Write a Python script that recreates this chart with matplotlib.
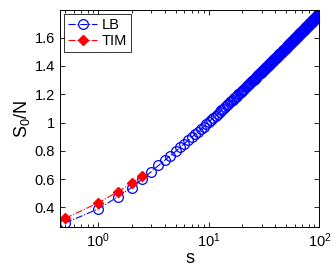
import matplotlib
matplotlib.use("Agg")
import matplotlib.pyplot as plt
from matplotlib.ticker import FixedLocator, LogLocator, NullFormatter

plt.rcParams['font.family'] = ['Liberation Sans', 'DejaVu Sans']
plt.rcParams['mathtext.fontset'] = 'custom'
plt.rcParams['mathtext.rm'] = 'Liberation Sans'
plt.rcParams['mathtext.it'] = 'Liberation Sans'
plt.rcParams['mathtext.default'] = 'regular'

lb_s = [
    0.5, 1, 1.5, 2, 2.5, 3, 3.5, 4, 4.5, 5, 5.5, 6, 6.5, 7, 7.5, 8, 8.5, 9, 9.5, 10,
    10.5, 11, 11.5, 12, 12.5, 13, 13.5, 14, 14.5, 15, 15.5, 16, 16.5, 17, 17.5, 18, 18.5, 19, 19.5, 20,
    20.5, 21, 21.5, 22, 22.5, 23, 23.5, 24, 24.5, 25, 25.5, 26, 26.5, 27, 27.5, 28, 28.5, 29, 29.5, 30,
    30.5, 31, 31.5, 32, 32.5, 33, 33.5, 34, 34.5, 35, 35.5, 36, 36.5, 37, 37.5, 38, 38.5, 39, 39.5, 40,
    40.5, 41, 41.5, 42, 42.5, 43, 43.5, 44, 44.5, 45, 45.5, 46, 46.5, 47, 47.5, 48, 48.5, 49, 49.5, 50,
    50.5, 51, 51.5, 52, 52.5, 53, 53.5, 54, 54.5, 55, 55.5, 56, 56.5, 57, 57.5, 58, 58.5, 59, 59.5, 60,
    60.5, 61, 61.5, 62, 62.5, 63, 63.5, 64, 64.5, 65, 65.5, 66, 66.5, 67, 67.5, 68, 68.5, 69, 69.5, 70,
    70.5, 71, 71.5, 72, 72.5, 73, 73.5, 74, 74.5, 75, 75.5, 76, 76.5, 77, 77.5, 78, 78.5, 79, 79.5, 80,
    80.5, 81, 81.5, 82, 82.5, 83, 83.5, 84, 84.5, 85, 85.5, 86, 86.5, 87, 87.5, 88, 88.5, 89, 89.5, 90,
    90.5, 91, 91.5, 92, 92.5, 93, 93.5, 94, 94.5, 95, 95.5, 96, 96.5, 97, 97.5, 98, 98.5, 99, 99.5, 100,
]
lb_val = [
    0.290, 0.390, 0.475, 0.541, 0.601, 0.652, 0.697, 0.735, 0.767, 0.796,
    0.824, 0.850, 0.874, 0.896, 0.917, 0.936, 0.954, 0.972, 0.988, 1.003,
    1.019, 1.033, 1.047, 1.061, 1.074, 1.086, 1.098, 1.110, 1.121, 1.132,
    1.142, 1.153, 1.162, 1.172, 1.181, 1.190, 1.199, 1.207, 1.215, 1.224,
    1.232, 1.240, 1.248, 1.255, 1.263, 1.270, 1.277, 1.284, 1.291, 1.298,
    1.304, 1.311, 1.317, 1.323, 1.329, 1.335, 1.341, 1.347, 1.353, 1.358,
    1.364, 1.369, 1.374, 1.380, 1.385, 1.390, 1.395, 1.400, 1.405, 1.409,
    1.414, 1.419, 1.423, 1.428, 1.432, 1.437, 1.441, 1.445, 1.450, 1.454,
    1.458, 1.462, 1.466, 1.470, 1.474, 1.478, 1.482, 1.486, 1.490, 1.494,
    1.498, 1.501, 1.505, 1.509, 1.512, 1.516, 1.520, 1.523, 1.526, 1.530,
    1.533, 1.537, 1.540, 1.543, 1.547, 1.550, 1.553, 1.556, 1.559, 1.562,
    1.565, 1.569, 1.572, 1.575, 1.578, 1.580, 1.583, 1.586, 1.589, 1.592,
    1.595, 1.598, 1.600, 1.603, 1.606, 1.609, 1.611, 1.614, 1.617, 1.619,
    1.622, 1.625, 1.627, 1.630, 1.632, 1.635, 1.637, 1.640, 1.642, 1.645,
    1.647, 1.649, 1.652, 1.654, 1.657, 1.659, 1.661, 1.664, 1.666, 1.668,
    1.670, 1.673, 1.675, 1.677, 1.679, 1.681, 1.684, 1.686, 1.688, 1.690,
    1.692, 1.694, 1.696, 1.699, 1.701, 1.703, 1.705, 1.707, 1.709, 1.711,
    1.713, 1.715, 1.717, 1.719, 1.721, 1.723, 1.725, 1.726, 1.728, 1.730,
    1.732, 1.734, 1.736, 1.738, 1.740, 1.741, 1.743, 1.745, 1.747, 1.749,
    1.750, 1.752, 1.754, 1.756, 1.758, 1.759, 1.761, 1.763, 1.764, 1.766,
]
tim_s = [0.5, 1, 1.5, 2, 2.5]
tim_val = [0.323, 0.433, 0.511, 0.570, 0.620]

y_ticks = [0.4, 0.6, 0.8, 1.0, 1.2, 1.4, 1.6]
y_tick_labels = ['0.4', '0.6', '0.8', '1', '1.2', '1.4', '1.6']

fig = plt.figure(figsize=(3.36, 2.72), dpi=100)
ax = fig.add_axes([0.1786, 0.1654, 0.9503 - 0.1786, 0.9632 - 0.1654])

ax.plot(lb_s, lb_val, linestyle='-.', color='#0000ff', marker='o', markersize=7,
        markerfacecolor='none', markeredgecolor='#0000ff', markeredgewidth=0.9,
        linewidth=0.8, label='LB')
ax.plot(tim_s, tim_val, linestyle='-.', color='#ff0000', marker='D', markersize=5.5,
        markerfacecolor='#ff0000', markeredgecolor='#ff0000', linewidth=0.8,
        label='TIM')

ax.set_xscale('log')
ax.set_xlim(0.45, 100)
ax.set_ylim(0.262, 1.795)
ax.yaxis.set_major_locator(FixedLocator(y_ticks))
ax.set_yticklabels(y_tick_labels)
ax.xaxis.set_major_locator(LogLocator(base=10, numticks=10))
ax.xaxis.set_minor_locator(LogLocator(base=10, subs=range(2, 10), numticks=10))
ax.xaxis.set_minor_formatter(NullFormatter())

ax.tick_params(which='both', direction='in', top=True, right=True, labelsize=10.5,
               width=0.6)
ax.tick_params(which='major', length=3.5)
ax.tick_params(which='minor', length=2)
for sp in ax.spines.values():
    sp.set_linewidth(0.7)

ax.set_xlabel('s', fontsize=13, labelpad=0)
ax.set_ylabel('S$_0$/N', fontsize=13, labelpad=2)

leg = ax.legend(loc='upper left', fontsize=10.5, frameon=True, fancybox=False,
                edgecolor='black', borderpad=0.25, handlelength=2.0,
                handletextpad=0.3, labelspacing=0.15, borderaxespad=0.3)
leg.get_frame().set_linewidth(0.7)

fig.savefig('out.png', dpi=100)
